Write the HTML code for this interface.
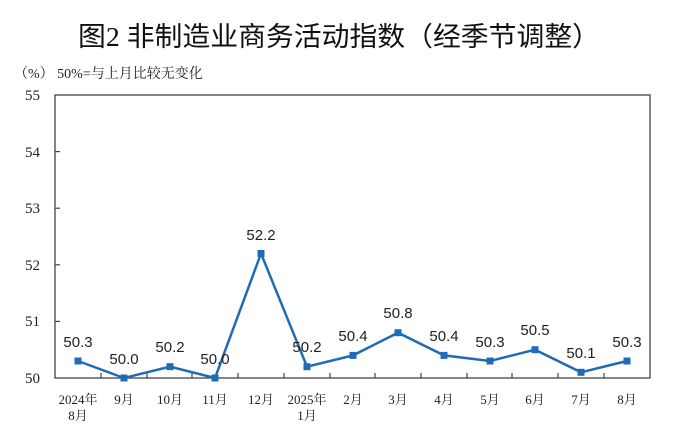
<!DOCTYPE html>
<html><head><meta charset="utf-8"><style>body{margin:0;background:#fff}svg{display:block}</style></head><body>
<svg width="700" height="434" viewBox="0 0 700 434" xmlns="http://www.w3.org/2000/svg">
<rect width="700" height="434" fill="#fff"/>
<text x="78" y="46" font-family="Liberation Serif, Noto Sans CJK SC, sans-serif" font-size="27" textLength="522" lengthAdjust="spacingAndGlyphs" fill="#111">图2 非制造业商务活动指数（经季节调整）</text>
<text x="14" y="78" font-family="Liberation Serif, Noto Serif CJK SC, serif" font-size="14" fill="#222">（%） 50%=与上月比较无变化</text>
<rect x="55" y="95" width="595" height="283" fill="none" stroke="#444" stroke-width="1.3"/>
<g stroke="#444" stroke-width="1.2">
<line x1="55" y1="151.6" x2="60" y2="151.6"/><line x1="55" y1="208.2" x2="60" y2="208.2"/><line x1="55" y1="264.8" x2="60" y2="264.8"/><line x1="55" y1="321.4" x2="60" y2="321.4"/>
<line x1="101" y1="378" x2="101" y2="373"/><line x1="147" y1="378" x2="147" y2="373"/><line x1="192" y1="378" x2="192" y2="373"/><line x1="238" y1="378" x2="238" y2="373"/><line x1="284" y1="378" x2="284" y2="373"/><line x1="330" y1="378" x2="330" y2="373"/><line x1="375" y1="378" x2="375" y2="373"/><line x1="421" y1="378" x2="421" y2="373"/><line x1="467" y1="378" x2="467" y2="373"/><line x1="512" y1="378" x2="512" y2="373"/><line x1="558" y1="378" x2="558" y2="373"/><line x1="604" y1="378" x2="604" y2="373"/>
</g>
<g font-family="Liberation Serif, serif" font-size="15" fill="#222" text-anchor="end">
<text x="40" y="100">55</text><text x="40" y="157">54</text><text x="40" y="213">53</text><text x="40" y="270">52</text><text x="40" y="326">51</text><text x="40" y="383">50</text>
</g>
<g font-family="Liberation Serif, Noto Serif CJK SC, serif" font-size="13" fill="#222" text-anchor="middle">
<text x="78" y="404">2024年</text><text x="78" y="420">8月</text>
<text x="124" y="404">9月</text><text x="170" y="404">10月</text><text x="215" y="404">11月</text><text x="261" y="404">12月</text>
<text x="307" y="404">2025年</text><text x="307" y="420">1月</text>
<text x="353" y="404">2月</text><text x="398" y="404">3月</text><text x="444" y="404">4月</text><text x="490" y="404">5月</text><text x="535" y="404">6月</text><text x="581" y="404">7月</text><text x="627" y="404">8月</text>
</g>
<polyline fill="none" stroke="#1f6bb5" stroke-width="2.5" points="78,361 124,378 170,366.7 215,378 261,253.5 307,366.7 353,355.4 398,332.7 444,355.4 490,361 535,349.7 581,372.3 627,361"/>
<g fill="#1f6bb5">
<rect x="74.5" y="357.5" width="7" height="7"/><rect x="120.5" y="374.5" width="7" height="7"/><rect x="166.5" y="363.2" width="7" height="7"/><rect x="211.5" y="374.5" width="7" height="7"/><rect x="257.5" y="250" width="7" height="7"/><rect x="303.5" y="363.2" width="7" height="7"/><rect x="349.5" y="351.9" width="7" height="7"/><rect x="394.5" y="329.2" width="7" height="7"/><rect x="440.5" y="351.9" width="7" height="7"/><rect x="486.5" y="357.5" width="7" height="7"/><rect x="531.5" y="346.2" width="7" height="7"/><rect x="577.5" y="368.8" width="7" height="7"/><rect x="623.5" y="357.5" width="7" height="7"/>
</g>
<g font-family="Liberation Sans, sans-serif" font-size="15" fill="#222" text-anchor="middle">
<text x="78" y="347">50.3</text><text x="124" y="364">50.0</text><text x="170" y="352">50.2</text><text x="215" y="364">50.0</text><text x="261" y="240">52.2</text><text x="307" y="352">50.2</text><text x="353" y="341">50.4</text><text x="398" y="318">50.8</text><text x="444" y="341">50.4</text><text x="490" y="347">50.3</text><text x="535" y="335">50.5</text><text x="581" y="358">50.1</text><text x="627" y="347">50.3</text>
</g>
</svg>
</body></html>
